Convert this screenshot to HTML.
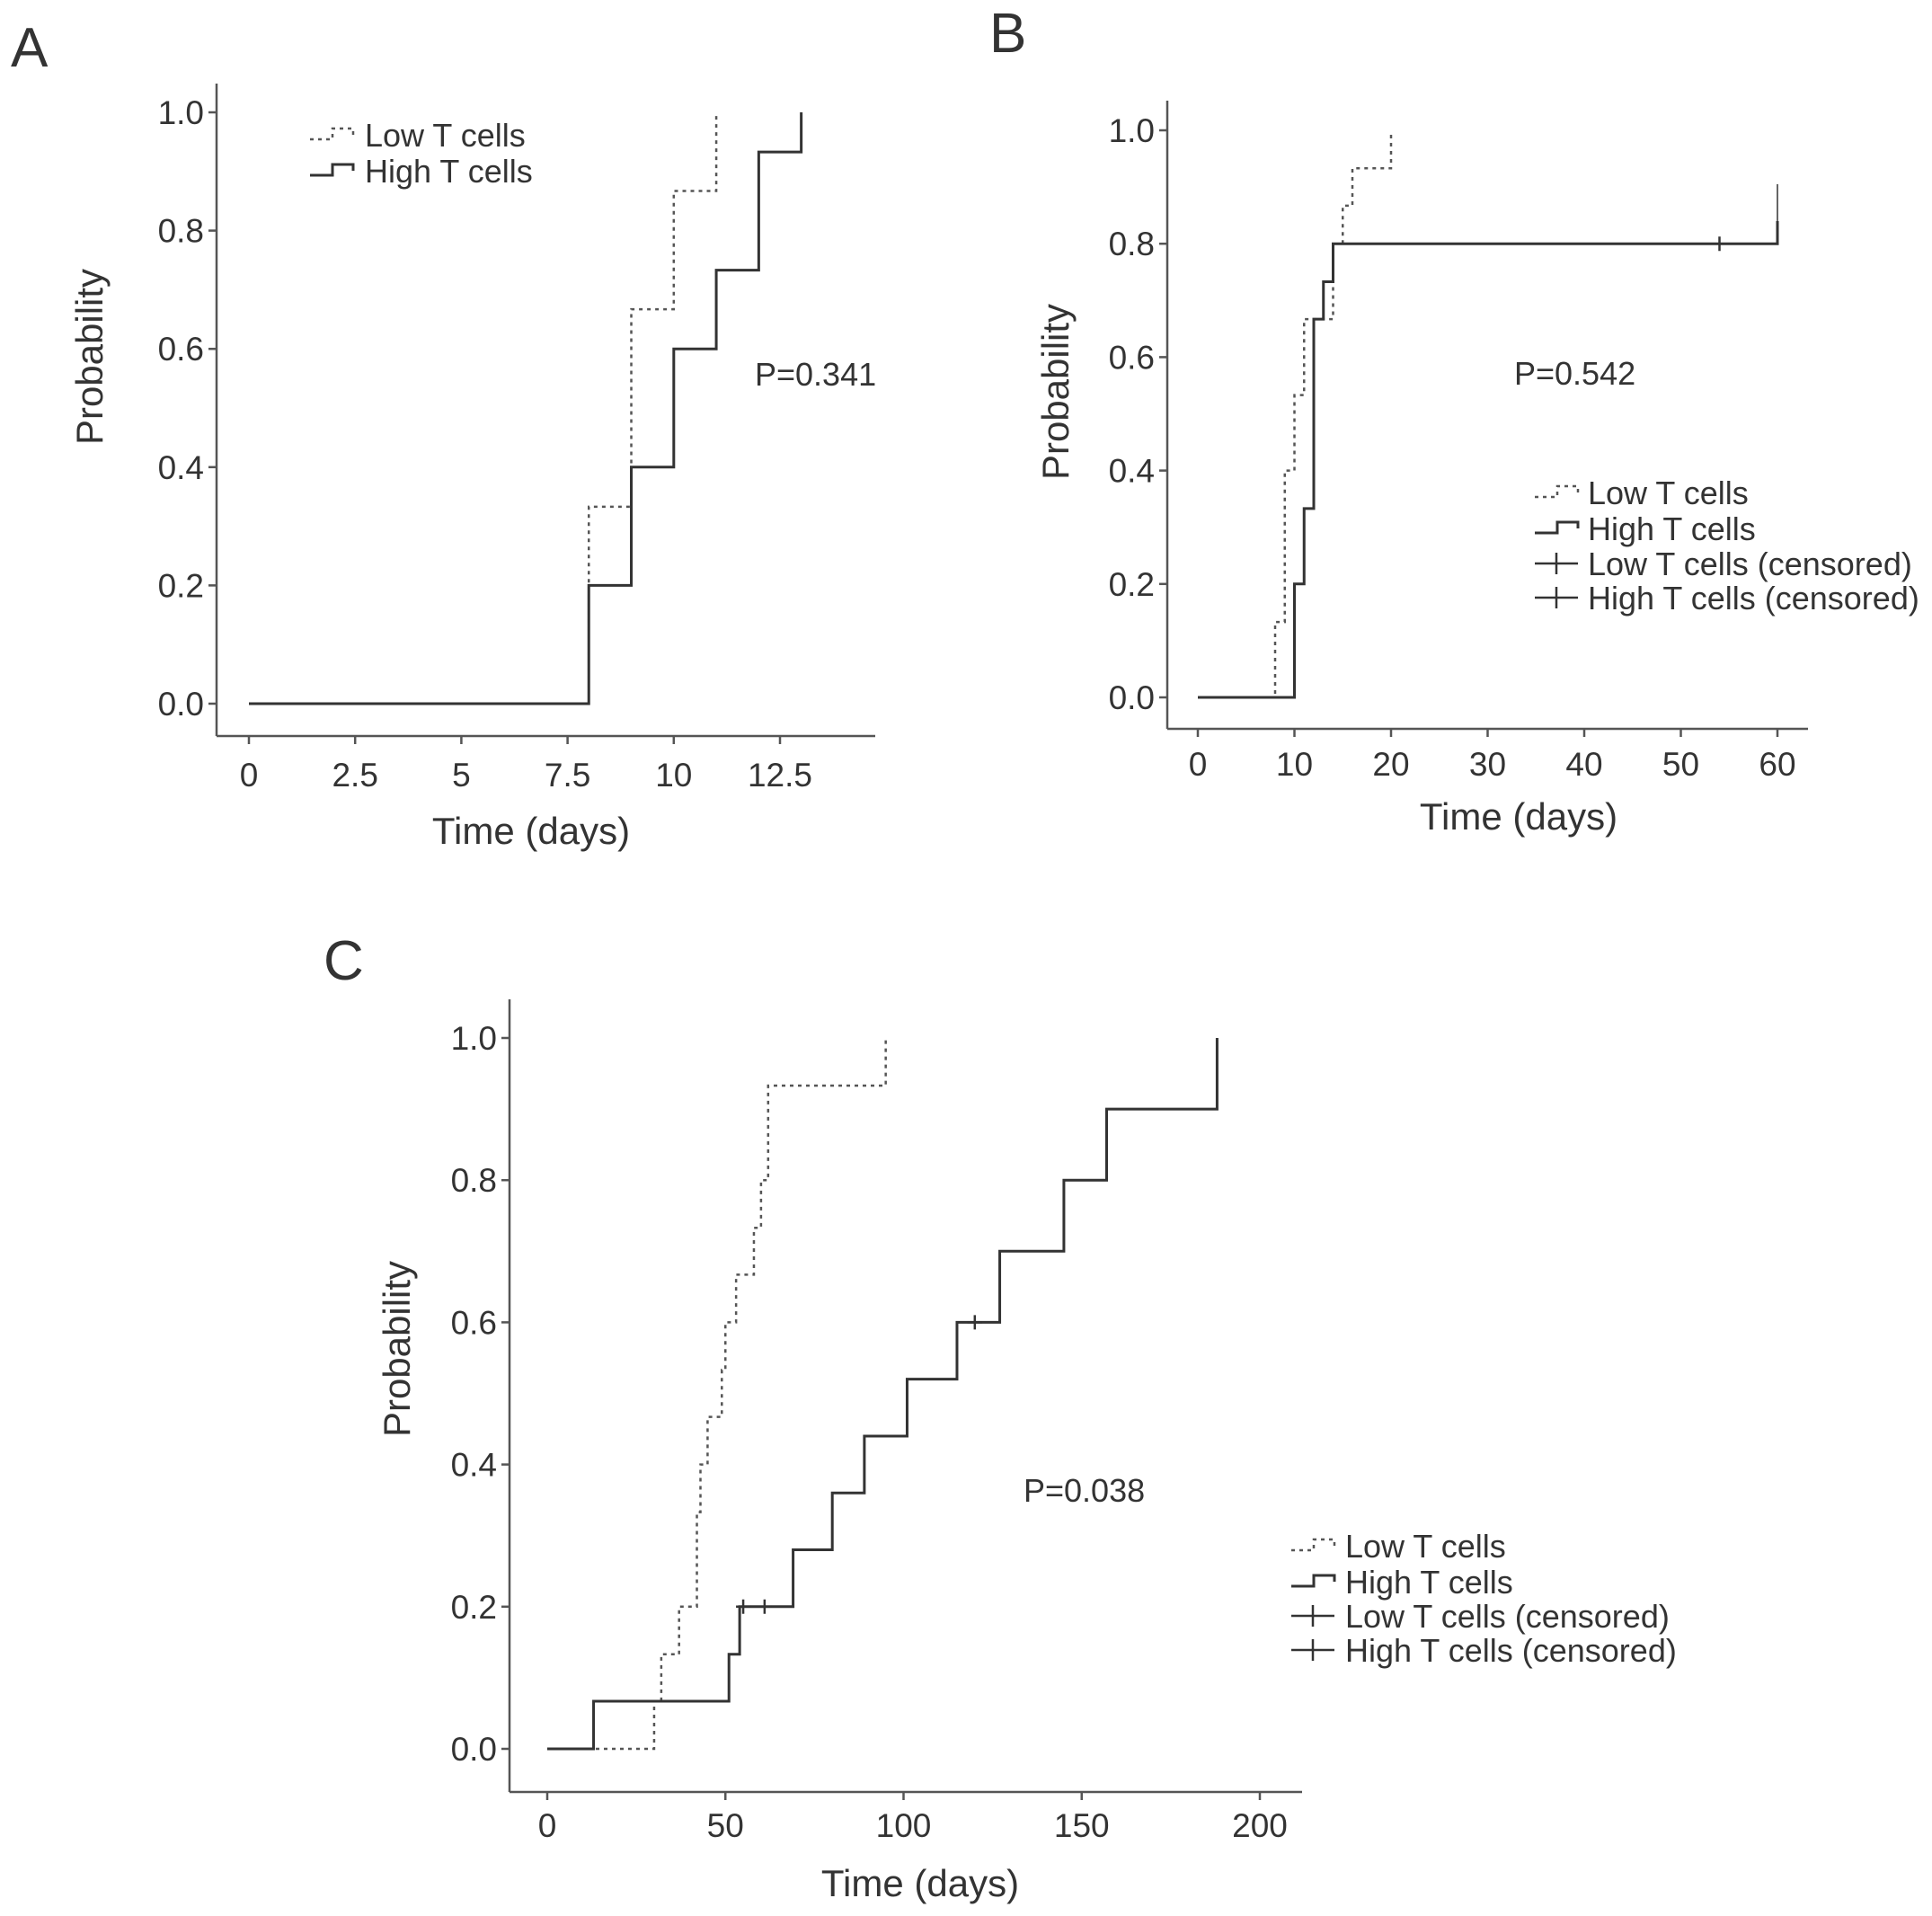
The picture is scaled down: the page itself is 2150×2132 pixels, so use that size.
<!DOCTYPE html>
<html><head><meta charset="utf-8">
<style>
html,body{margin:0;padding:0;background:#fff;}
svg{display:block;}
text{font-family:"Liberation Sans",sans-serif;fill:#333;}
</style></head>
<body>
<svg id="fig" width="2150" height="2132" viewBox="0 0 2150 2132" xmlns="http://www.w3.org/2000/svg"></svg>
<script>
// Panel A data
const aLowTimes = [0, 8, 9, 10, 11];
const aLowVals = [0, 0.333, 0.667, 0.867, 1.0];
const aLowEnd = 11;
const aHighTimes = [0, 8, 9, 10, 11, 12, 13];
const aHighVals = [0, 0.2, 0.4, 0.6, 0.733, 0.933, 1.0];
const aHighEnd = 13;
const aXTicks = [0, 2.5, 5, 7.5, 10, 12.5];
const aXTickLabels = ["0", "2.5", "5", "7.5", "10", "12.5"];
// Panel B data
const bLowTimes = [0, 8, 9, 10, 11, 14, 15, 16, 20];
const bLowVals = [0, 0.133, 0.4, 0.533, 0.667, 0.8, 0.867, 0.933, 1.0];
const bLowEnd = 20;
const bHighTimes = [0, 10, 11, 12, 13, 14, 60];
const bHighVals = [0, 0.2, 0.333, 0.667, 0.733, 0.8, 0.84];
const bHighEnd = 60;
const bHighCensorT = [54];
const bHighCensorV = [0.8];
const bXTicks = [0, 10, 20, 30, 40, 50, 60];
const bXTickLabels = ["0", "10", "20", "30", "40", "50", "60"];
// Panel C data
const cLowTimes = [0, 30, 32, 37, 42, 43, 45, 49, 50, 53, 58, 60, 62, 95];
const cLowVals = [0, 0.067, 0.133, 0.2, 0.333, 0.4, 0.467, 0.533, 0.6, 0.667, 0.733, 0.8, 0.933, 1.0];
const cLowEnd = 95;
const cHighTimes = [0, 13, 51, 54, 69, 80, 89, 101, 115, 127, 145, 157, 188];
const cHighVals = [0, 0.067, 0.133, 0.2, 0.28, 0.36, 0.44, 0.52, 0.6, 0.7, 0.8, 0.9, 1.0];
const cHighEnd = 188;
const cHighCensorT = [55, 61, 120];
const cHighCensorV = [0.2, 0.2, 0.6];
const cXTicks = [0, 50, 100, 150, 200];
const cXTickLabels = ["0", "50", "100", "150", "200"];
const yTicks = [0, 0.2, 0.4, 0.6, 0.8, 1.0];
const yTickLabels = ["0.0", "0.2", "0.4", "0.6", "0.8", "1.0"];

const NS = "http://www.w3.org/2000/svg";
const svg = document.getElementById('fig');
function mk(tag, attrs, parent, txt) {
  const e = document.createElementNS(NS, tag);
  for (const k in attrs) e.setAttribute(k, attrs[k]);
  if (txt !== undefined) e.textContent = txt;
  (parent || svg).appendChild(e);
  return e;
}

function panel(p) {
  const g = mk('g', {});
  
  
  const sx = v => p.x0 + (v - p.xd0) / (p.xd1 - p.xd0) * (p.x1 - p.x0);
  const sy = v => p.y0 + v * (p.y1 - p.y0);
  const lab = mk('text', {x: p.lx, y: p.ly, 'font-size': 62}, g, p.id.toUpperCase());
  
  
  const ya = mk('line', {x1: p.ax, y1: p.atop, x2: p.ax, y2: p.ay, stroke: '#555', 'stroke-width': 2.5}, g);
  
  
  const xa = mk('line', {x1: p.ax, y1: p.ay, x2: p.aright, y2: p.ay, stroke: '#555', 'stroke-width': 2.5}, g);
  
  
  yTicks.forEach((v, i) => {
    const y = sy(v);
    mk('line', {x1: p.ax - 9, y1: y, x2: p.ax, y2: y, stroke: '#555', 'stroke-width': 2.5}, g);
    const t = mk('text', {x: p.ax - 14, y: y + 13, 'font-size': 37, 'text-anchor': 'end'}, g, yTickLabels[i]);
    
    
  });
  p.xt.forEach((v, i) => {
    const x = sx(v);
    mk('line', {x1: x, y1: p.ay, x2: x, y2: p.ay + 9, stroke: '#555', 'stroke-width': 2.5}, g);
    const t = mk('text', {x: x, y: p.ay + p.tko, 'font-size': 37, 'text-anchor': 'middle'}, g, p.xl[i]);
    
    
  });
  const xt = mk('text', {x: p.xtx, y: p.xty, 'font-size': 42, 'text-anchor': 'middle'}, g, 'Time (days)');
  
  
  const yt = mk('text', {x: 0, y: 0, 'font-size': 42, 'text-anchor': 'middle', transform: `translate(${p.ytx},${p.yty}) rotate(-90)`}, g, 'Probability');
  
  
  const pv = mk('text', {x: p.px, y: p.py, 'font-size': 36}, g, p.pval);
  
  
  function step(ts, vs, end) {
    let d = `M${sx(ts[0])},${sy(vs[0])}`;
    for (let i = 1; i < ts.length; i++) d += ` H${sx(ts[i])} V${sy(vs[i])}`;
    const last = ts[ts.length - 1];
    if (end > last) d += ` H${sx(end)}`;
    return d;
  }
  const lo = mk('path', {d: step(p.lt, p.lv, p.le), fill: 'none', stroke: '#555', 'stroke-width': 2.5, 'stroke-dasharray': '4,5'}, g);
  
  
  const hi = mk('path', {d: step(p.ht, p.hv, p.he), fill: 'none', stroke: '#333', 'stroke-width': 3}, g);
  
  
  if (p.extra) {
    const ex = mk('line', {x1: sx(p.he), y1: sy(p.hv[p.hv.length-1]), x2: sx(p.he), y2: sy(p.extra), stroke: '#555', 'stroke-width': 1.8}, g);
    
    
  }
  (p.ct || []).forEach((t, i) => {
    const x = sx(t), y = sy(p.cv[i]);
    const c = mk('path', {d: `M${x},${y-8} V${y+8} M${x-8},${y} H${x+8}`, stroke: '#333', 'stroke-width': 2.5}, g);
    
    
  });
  const lg = mk('g', {}, g);
  
  
  const items = p.legend4 ? ['Low T cells', 'High T cells', 'Low T cells (censored)', 'High T cells (censored)'] : ['Low T cells', 'High T cells'];
  items.forEach((s, i) => {
    const y = p.legY[i], x = p.legX;
    let sym;
    if (i === 0) sym = mk('path', {d: `M${x},${y+5} H${x+25} V${y-7} H${x+48} V${y}`, fill: 'none', stroke: '#555', 'stroke-width': 2.5, 'stroke-dasharray': '4,5'}, lg);
    else if (i === 1) sym = mk('path', {d: `M${x},${y+5} H${x+25} V${y-7} H${x+48} V${y}`, fill: 'none', stroke: '#333', 'stroke-width': 3}, lg);
    else sym = mk('path', {d: `M${x},${y} H${x+48} M${x+24},${y-12} V${y+12}`, fill: 'none', stroke: '#333', 'stroke-width': 2.5}, lg);
    
    
    const t = mk('text', {x: p.legTX, y: y + 13, 'font-size': 36}, lg, s);
    
    
  });
}

panel({id: 'a', lx: 12, ly: 74, x0: 277, x1: 868, xd0: 0, xd1: 12.5, y0: 783, y1: 125,
  ax: 241, atop: 93, ay: 819, aright: 974, tko: 56, xt: aXTicks, xl: aXTickLabels,
  xtx: 591, xty: 939, ytx: 114, yty: 397, px: 840, py: 429, pval: 'P=0.341',
  lt: aLowTimes, lv: aLowVals, le: aLowEnd, ht: aHighTimes, hv: aHighVals, he: aHighEnd,
  legX: 345, legTX: 406, legY: [150, 190], legend4: false});
panel({id: 'b', lx: 1101, ly: 58, x0: 1333, x1: 1978, xd0: 0, xd1: 60, y0: 776, y1: 145,
  ax: 1299, atop: 112, ay: 811, aright: 2012, tko: 52, xt: bXTicks, xl: bXTickLabels,
  xtx: 1690, xty: 923, ytx: 1189, yty: 436, px: 1685, py: 428, pval: 'P=0.542',
  lt: bLowTimes, lv: bLowVals, le: bLowEnd, ht: bHighTimes, hv: bHighVals, he: bHighEnd, extra: 0.905,
  ct: bHighCensorT, cv: bHighCensorV,
  legX: 1708, legTX: 1767, legY: [548, 588, 627, 665], legend4: true});
panel({id: 'c', lx: 360, ly: 1090, x0: 609, x1: 1402, xd0: 0, xd1: 200, y0: 1946, y1: 1155,
  ax: 567, atop: 1112, ay: 1994, aright: 1449, tko: 50, xt: cXTicks, xl: cXTickLabels,
  xtx: 1024, xty: 2110, ytx: 456, yty: 1501, px: 1139, py: 1671, pval: 'P=0.038',
  lt: cLowTimes, lv: cLowVals, le: cLowEnd, ht: cHighTimes, hv: cHighVals, he: cHighEnd,
  ct: cHighCensorT, cv: cHighCensorV,
  legX: 1437, legTX: 1497, legY: [1720, 1760, 1798, 1836], legend4: true});
</script>
</body></html>
